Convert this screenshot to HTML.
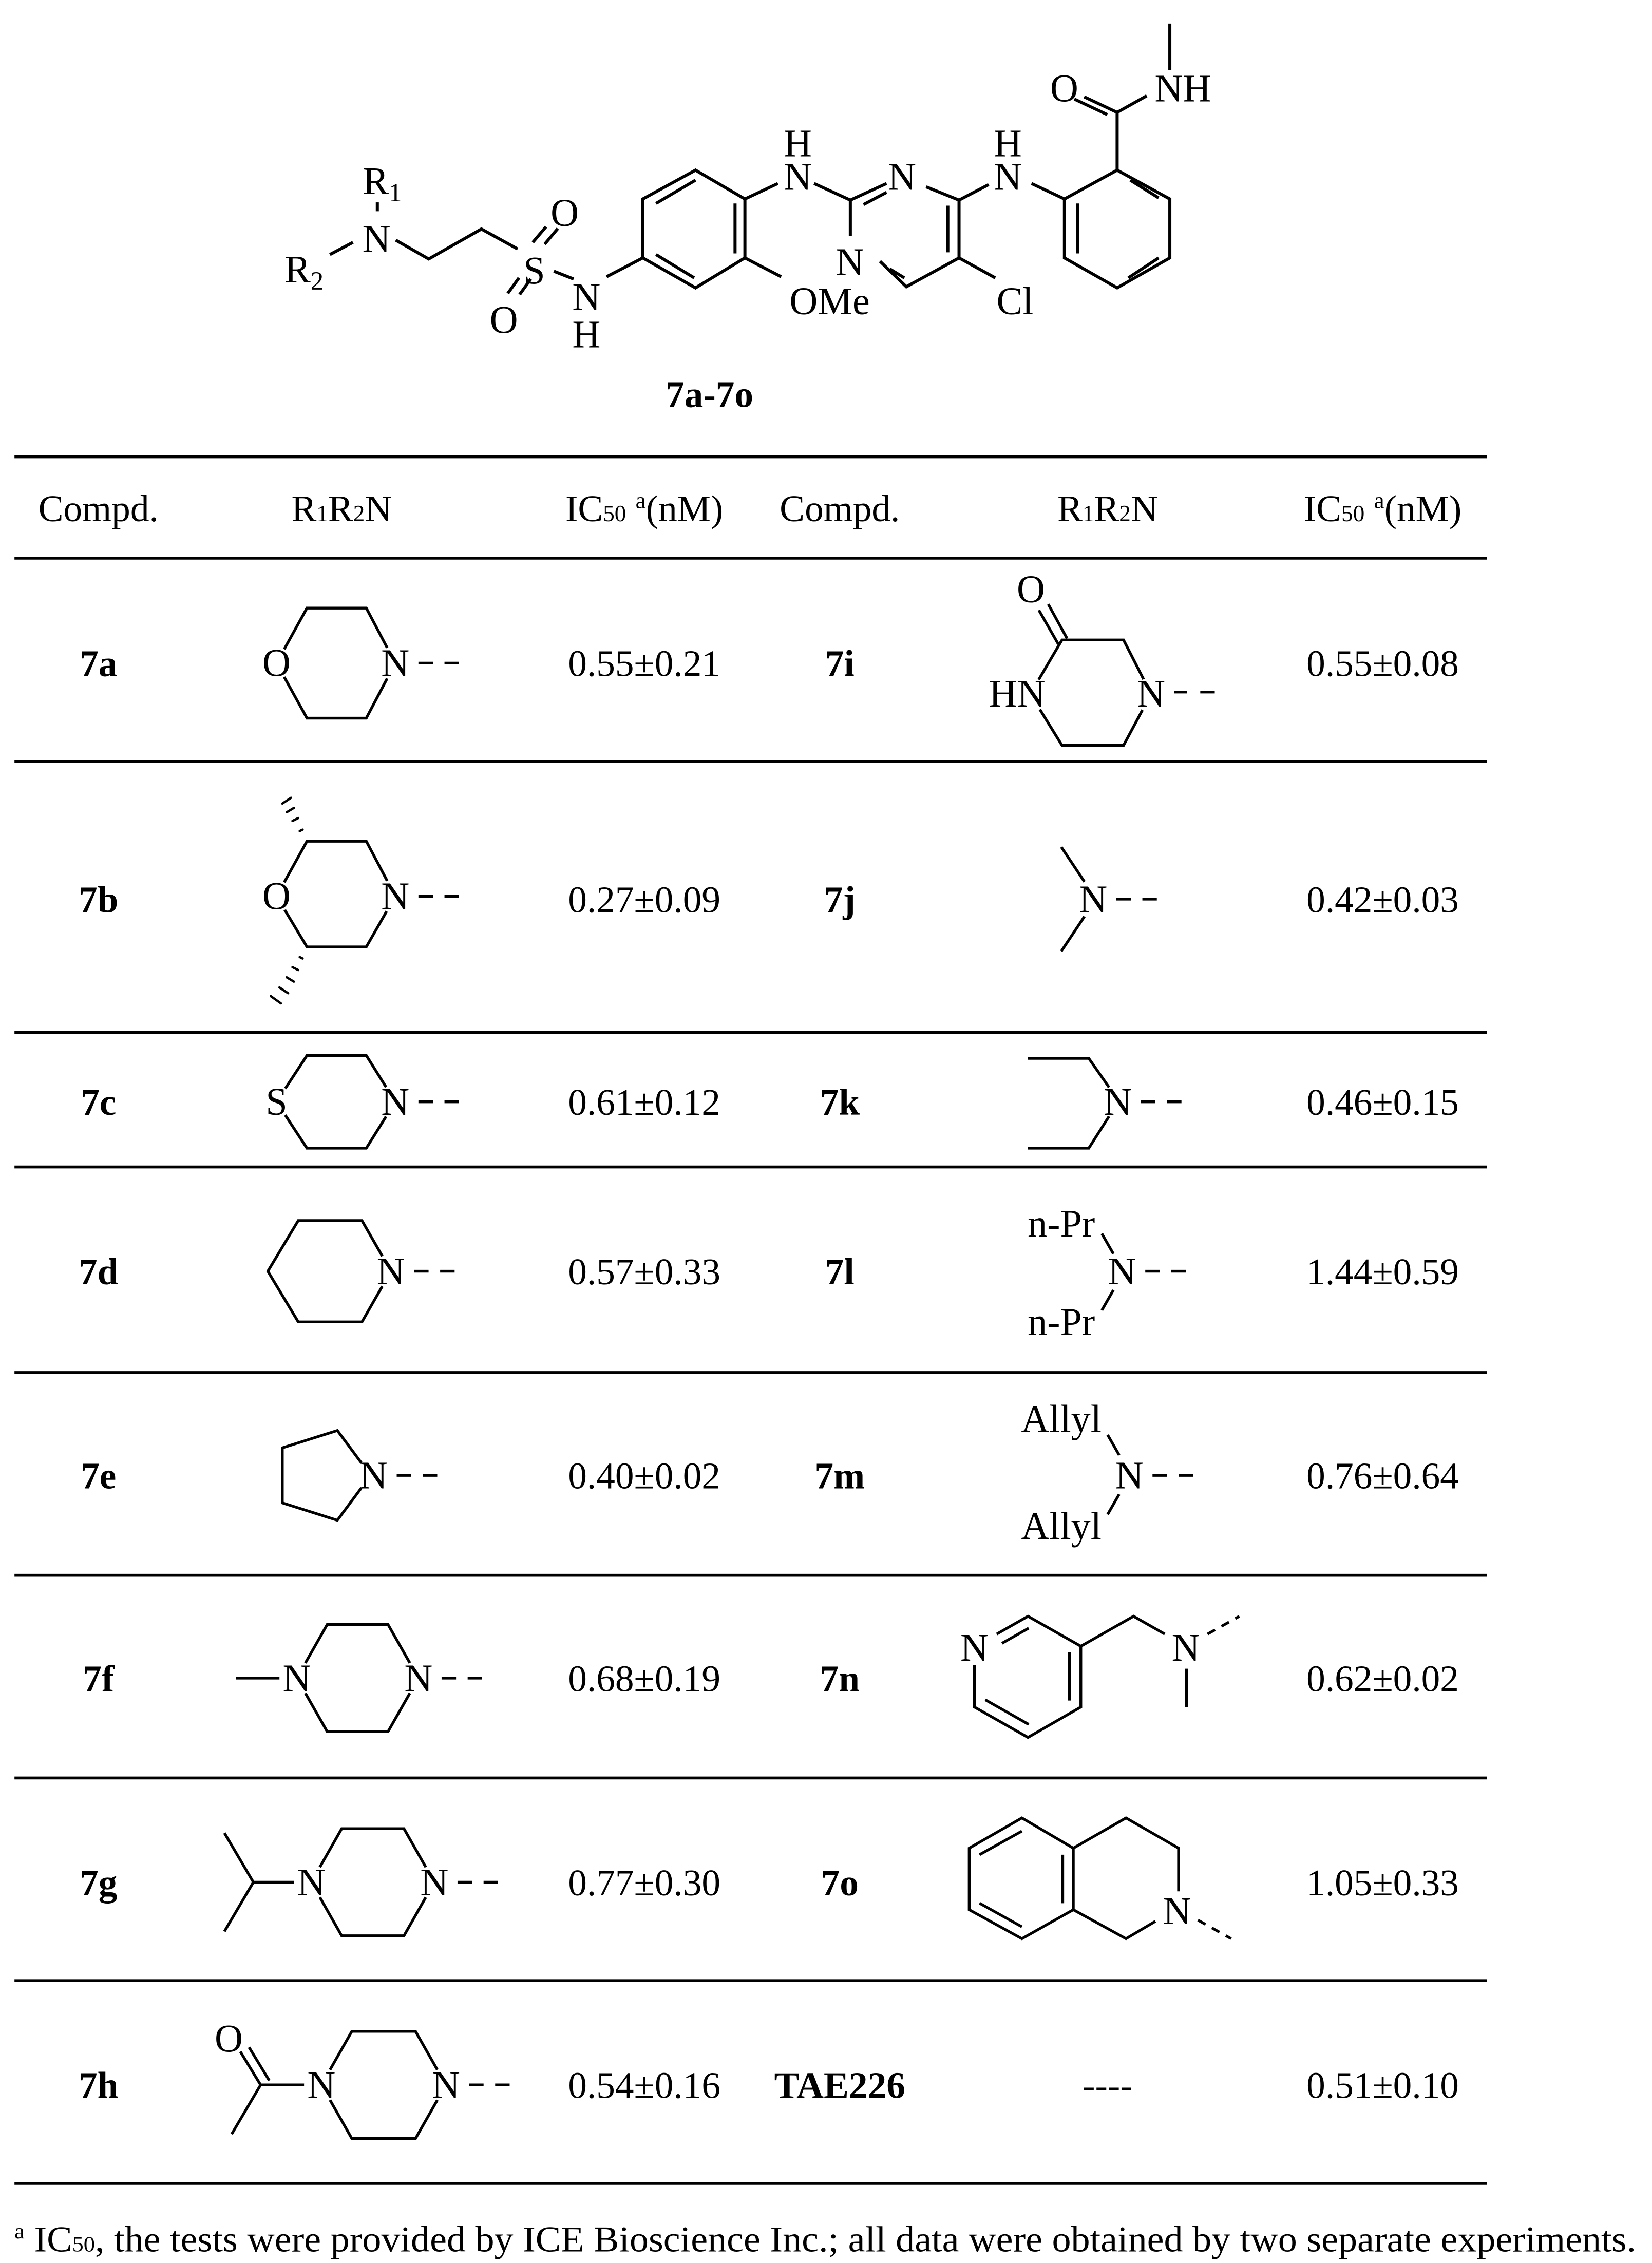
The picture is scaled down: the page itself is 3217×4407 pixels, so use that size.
<!DOCTYPE html>
<html><head><meta charset="utf-8"><style>
html,body{margin:0;padding:0;background:#fff}
svg{display:block}
text{font-family:"Liberation Serif",serif;fill:#000}
</style></head><body>
<svg xmlns="http://www.w3.org/2000/svg" width="3217" height="4407" viewBox="0 0 1141 1563" preserveAspectRatio="none">
<rect width="1141" height="1563" fill="#fff"/>

<!-- main structure -->
<g transform="matrix(0.455,0,0,0.1534,159.6,1.7)" fill="none" stroke="#000" stroke-width="6" stroke-linecap="butt" stroke-linejoin="miter">
<path vector-effect="non-scaling-stroke" d="M222,900 L222,940"/>
<path vector-effect="non-scaling-stroke" d="M185,1080 L150,1135"/>
<path vector-effect="non-scaling-stroke" d="M250,1070 L300,1155 L380,1020 L435,1110"/>
<path vector-effect="non-scaling-stroke" d="M458,1080 L478,1010 M476,1088 L496,1018"/>
<path vector-effect="non-scaling-stroke" d="M437,1240 L420,1310 M455,1245 L438,1315"/>
<path vector-effect="non-scaling-stroke" d="M490,1210 L520,1245"/>
<path vector-effect="non-scaling-stroke" d="M570,1235 L625,1150"/>
<path vector-effect="non-scaling-stroke" d="M625,1150 L625,885 L705,755 L780,885 L780,1150 L705,1285 Z"/>
<path vector-effect="non-scaling-stroke" d="M645,905 L705,800 M765,905 L765,1130 M645,1135 L703,1240"/>
<path vector-effect="non-scaling-stroke" d="M780,885 L830,815"/>
<path vector-effect="non-scaling-stroke" d="M780,1150 L835,1235"/>
<path vector-effect="non-scaling-stroke" d="M885,815 L940,890 L995,815 M960,910 L995,855"/>
<path vector-effect="non-scaling-stroke" d="M940,890 L940,1050"/>
<path vector-effect="non-scaling-stroke" d="M985,1165 L1025,1280 L1105,1150 L1105,890 L1055,830 M1000,1200 L1022,1240 M1088,915 L1088,1125"/>
<path vector-effect="non-scaling-stroke" d="M1105,1150 L1160,1240"/>
<path vector-effect="non-scaling-stroke" d="M1105,890 L1150,820"/>
<path vector-effect="non-scaling-stroke" d="M1215,815 L1265,885"/>
<path vector-effect="non-scaling-stroke" d="M1265,885 L1345,755 L1425,885 L1425,1150 L1345,1285 L1265,1150 Z"/>
<path vector-effect="non-scaling-stroke" d="M1365,800 L1408,880 M1408,1150 L1362,1240 M1285,905 L1285,1130"/>
<path vector-effect="non-scaling-stroke" d="M1345,755 L1345,495"/>
<path vector-effect="non-scaling-stroke" d="M1345,495 L1295,425 M1330,505 L1280,435"/>
<path vector-effect="non-scaling-stroke" d="M1345,495 L1390,420"/>
<path vector-effect="non-scaling-stroke" d="M1425,305 L1425,95"/>
</g>
<g font-size="27" text-anchor="middle">
<text x="264" y="134">R<tspan font-size="18" dy="5">1</tspan></text>
<text x="260" y="174">N</text>
<text x="210" y="195">R<tspan font-size="18" dy="5">2</tspan></text>
<text x="390" y="156">O</text>
<text x="369" y="196">S</text>
<text x="348" y="230">O</text>
<text x="405" y="214">N</text>
<text x="405" y="240">H</text>
<text x="551" y="131">N</text>
<text x="551" y="108">H</text>
<text x="623" y="131">N</text>
<text x="587" y="190">N</text>
<text x="573" y="217">OMe</text>
<text x="701" y="217">Cl</text>
<text x="696" y="131">N</text>
<text x="696" y="108">H</text>
<text x="735" y="70">O</text>
<text x="817" y="70">NH</text>
<text x="490" y="281" font-weight="bold" font-size="26">7a-7o</text>
</g>

<!-- table rules -->
<g stroke="#000" stroke-width="2">
<line x1="10" y1="315.5" x2="1027" y2="315.5"/>
<line x1="10" y1="385.5" x2="1027" y2="385.5"/>
<line x1="10" y1="526" x2="1027" y2="526"/>
<line x1="10" y1="713" x2="1027" y2="713"/>
<line x1="10" y1="806" x2="1027" y2="806"/>
<line x1="10" y1="948" x2="1027" y2="948"/>
<line x1="10" y1="1088" x2="1027" y2="1088"/>
<line x1="10" y1="1228" x2="1027" y2="1228"/>
<line x1="10" y1="1368" x2="1027" y2="1368"/>
<line x1="10" y1="1508" x2="1027" y2="1508"/>
</g>

<!-- header -->
<g font-size="26" text-anchor="middle">
<text x="68" y="360">Compd.</text>
<text x="236" y="360">R<tspan font-size="16">1</tspan>R<tspan font-size="16">2</tspan>N</text>
<text x="445" y="360">IC<tspan font-size="16">50</tspan> <tspan font-size="16" dy="-9">a</tspan><tspan dy="9">(nM)</tspan></text>
<text x="580" y="360">Compd.</text>
<text x="765" y="360">R<tspan font-size="16">1</tspan>R<tspan font-size="16">2</tspan>N</text>
<text x="955" y="360">IC<tspan font-size="16">50</tspan> <tspan font-size="16" dy="-9">a</tspan><tspan dy="9">(nM)</tspan></text>
</g>

<!-- compound labels and values -->
<g font-size="26" text-anchor="middle">
<g font-weight="bold">
<text x="68" y="467">7a</text><text x="68" y="630">7b</text><text x="68" y="770">7c</text><text x="68" y="887">7d</text>
<text x="68" y="1028">7e</text><text x="68" y="1168">7f</text><text x="68" y="1309">7g</text><text x="68" y="1449">7h</text>
<text x="580" y="467">7i</text><text x="580" y="630">7j</text><text x="580" y="770">7k</text><text x="580" y="887">7l</text>
<text x="580" y="1028">7m</text><text x="580" y="1168">7n</text><text x="580" y="1309">7o</text><text x="580" y="1449">TAE226</text>
</g>
<text x="445" y="467">0.55±0.21</text><text x="445" y="630">0.27±0.09</text><text x="445" y="770">0.61±0.12</text><text x="445" y="887">0.57±0.33</text>
<text x="445" y="1028">0.40±0.02</text><text x="445" y="1168">0.68±0.19</text><text x="445" y="1309">0.77±0.30</text><text x="445" y="1449">0.54±0.16</text>
<text x="955" y="467">0.55±0.08</text><text x="955" y="630">0.42±0.03</text><text x="955" y="770">0.46±0.15</text><text x="955" y="887">1.44±0.59</text>
<text x="955" y="1028">0.76±0.64</text><text x="955" y="1168">0.62±0.02</text><text x="955" y="1309">1.05±0.33</text><text x="955" y="1449">0.51±0.10</text>
<text x="765" y="1449">----</text>
</g>

<!-- substituent structures -->
<g fill="none" stroke="#000" stroke-width="1.9" stroke-linejoin="miter">
<path d="M191,458 L212,420 L253,420 L273,458 L253,496 L212,496 Z"/>
<path d="M191,619 L212,581 L253,581 L273,619 L253,654 L212,654 Z"/>
<path d="M191,761 L212,729 L253,729 L273,761 L253,793 L212,793 Z"/>
<path d="M185,878 L206,843 L250,843 L270,878 L250,913 L206,913 Z"/>
<path d="M256,1019 L233,988 L195,1000 L195,1038 L233,1050 Z"/>
<path d="M205,1159 L226,1122 L268,1122 L289,1159 L268,1196 L226,1196 Z"/>
<path d="M163,1159 L196,1159"/>
<path d="M215,1300 L236,1263 L279,1263 L300,1300 L279,1337 L236,1337 Z"/>
<path d="M155,1266 L175,1300 L155,1334 M175,1300 L205,1300"/>
<path d="M222,1440 L243,1403 L287,1403 L308,1440 L287,1477 L243,1477 Z"/>
<path d="M180,1440 L212,1440 M180,1440 L160,1474 M180,1440 L166,1417 M186,1437 L172,1414"/>
<path d="M711.6,479.3 L733.5,442 L776,442 L795,479.3 L776,514.8 L733.5,514.8 Z"/>
<path d="M717.5,421.4 L731,445 M724,417.3 L737,441"/>
<path d="M733,585 L749,609 M749,633 L733,657"/>
<path d="M710,731 L752,731 L766,751 M710,793 L752,793 L766,771"/>
<path d="M761,852 L769,866 M769,891 L761,905"/>
<path d="M765,991 L773,1005 M773,1032 L765,1046"/>
<path d="M688.4,1128.6 L710,1116.3 L746.5,1137 L746.5,1179 L710,1200 L673,1179 L673,1150"/>
<path d="M692,1135 L710.5,1124.5 M738.6,1141 L738.6,1174.5 M680.5,1174 L710.5,1191"/>
<path d="M746.5,1137 L782.9,1116.3 L804.5,1128.6 M819.5,1152.5 L819.5,1179"/>
<path d="M834,1128.6 L856,1116.3" stroke-dasharray="6,5"/>
<path d="M705.8,1255.6 L741.3,1276.5 L741.3,1319 L705.8,1339 L669.4,1319 L669.4,1276.5 Z"/>
<path d="M676.5,1281 L705.8,1264.7 M734,1281 L734,1314.5 M676.5,1314.5 L705.8,1330.8"/>
<path d="M741.3,1276.5 L777.7,1255.6 L814,1276.5 L814,1306.3 M741.3,1319 L777.7,1339 L798,1327"/>
<path d="M827.4,1326.2 L850.3,1339" stroke-dasharray="6,5"/>
</g>
<g stroke="#000" stroke-width="1.6" stroke-linecap="round">
<line x1="207" y1="574" x2="209" y2="573"/>
<line x1="202" y1="567" x2="206" y2="565"/>
<line x1="198" y1="561" x2="203" y2="558"/>
<line x1="195" y1="555" x2="201" y2="551"/>
<line x1="207" y1="661" x2="209" y2="662"/>
<line x1="202" y1="668" x2="206" y2="670"/>
<line x1="198" y1="675" x2="203" y2="678"/>
<line x1="193" y1="682" x2="199" y2="686"/>
<line x1="187" y1="688" x2="194" y2="693"/>
</g>
<g fill="#fff">
<circle cx="191" cy="458" r="11"/><circle cx="273" cy="458" r="12"/>
<circle cx="191" cy="619" r="11"/><circle cx="273" cy="619" r="12"/>
<circle cx="191" cy="761" r="11"/><circle cx="273" cy="761" r="12"/>
<circle cx="270" cy="878" r="12"/>
<circle cx="258" cy="1019" r="12"/>
<circle cx="205" cy="1159" r="12"/><circle cx="289" cy="1159" r="12"/>
<circle cx="215" cy="1300" r="12"/><circle cx="300" cy="1300" r="12"/>
<circle cx="222" cy="1440" r="12"/><circle cx="308" cy="1440" r="12"/>
<circle cx="711.6" cy="480" r="12"/><circle cx="795" cy="480" r="12"/>
<circle cx="673" cy="1138" r="11"/>
</g>
<g font-size="27" text-anchor="middle">
<text x="191" y="467">O</text><text x="273" y="467">N</text>
<text x="191" y="628">O</text><text x="273" y="628">N</text>
<text x="191" y="770">S</text><text x="273" y="770">N</text>
<text x="270" y="887">N</text>
<text x="258" y="1028">N</text>
<text x="205" y="1168">N</text><text x="289" y="1168">N</text>
<text x="215" y="1309">N</text><text x="300" y="1309">N</text>
<text x="158" y="1417">O</text><text x="222" y="1449">N</text><text x="308" y="1449">N</text>
<text x="712" y="416">O</text><text x="722" y="488" text-anchor="end">HN</text><text x="795" y="488">N</text>
<text x="755" y="630">N</text>
<text x="772" y="770">N</text>
<text x="733" y="854">n-Pr</text><text x="775" y="887">N</text><text x="733" y="922">n-Pr</text>
<text x="733" y="989">Allyl</text><text x="780" y="1028">N</text><text x="733" y="1063">Allyl</text>
<text x="673" y="1147">N</text><text x="819" y="1147">N</text>
<text x="813" y="1329">N</text>
</g>
<g stroke="#000" stroke-width="1.9">
<path d="M289,458 h10 M307,458 h10"/>
<path d="M289,619 h10 M307,619 h10"/>
<path d="M289,761 h10 M307,761 h10"/>
<path d="M286,878 h10 M304,878 h10"/>
<path d="M274,1019 h10 M292,1019 h10"/>
<path d="M305,1159 h10 M323,1159 h10"/>
<path d="M316,1300 h10 M334,1300 h10"/>
<path d="M324,1440 h10 M342,1440 h10"/>
<path d="M811,478 h9 M829,478 h10"/>
<path d="M771,621 h10 M789,621 h10"/>
<path d="M788,761 h10 M806,761 h10"/>
<path d="M791,878 h10 M809,878 h10"/>
<path d="M796,1019 h10 M814,1019 h10"/>
</g>

<text x="10" y="1555" font-size="25" textLength="1120" lengthAdjust="spacingAndGlyphs"><tspan font-size="15" dy="-9">a</tspan><tspan dy="9"> IC</tspan><tspan font-size="15">50</tspan>, the tests were provided by ICE Bioscience Inc.; all data were obtained by two separate experiments.</text>
</svg>
</body></html>
